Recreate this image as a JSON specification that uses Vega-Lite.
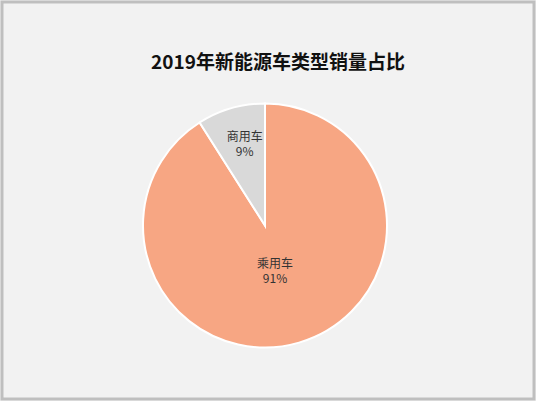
{
  "$schema": "https://vega.github.io/schema/vega-lite/v6.json",
  "width": 536,
  "height": 401,
  "autosize": {"type": "fit", "contains": "padding"},
  "padding": 0,
  "background": "#f2f2f2",
  "config": {
    "view": {"stroke": null},
    "font": "Noto Sans CJK SC"
  },
  "title": {
    "text": "2019年新能源车类型销量占比",
    "offset": -72,
    "fontSize": 19,
    "fontWeight": "bold",
    "color": "#111111",
    "font": "Noto Sans CJK SC",
    "dx": 10
  },
  "layer": [
    {
      "data": {"values": [{"frame": "border"}]},
      "mark": {"type": "rect", "fill": null, "stroke": "#bfbfbf", "strokeWidth": 3},
      "encoding": {}
    },
    {
      "data": {
        "values": [
          {"type": "乘用车", "pct": 91},
          {"type": "商用车", "pct": 9}
        ]
      },
      "transform": [
        {"stack": "pct", "groupby": [], "as": ["t0", "t1"], "sort": [{"field": "pct", "order": "descending"}]},
        {"calculate": "(datum.t0 + datum.t1) / 2", "as": "tmid"},
        {"calculate": "datum.type + '\\n' + datum.pct + '%'", "as": "label"}
      ],
      "layer": [
        {
          "mark": {"type": "arc", "outerRadius": 122, "stroke": "#ffffff", "strokeWidth": 2, "xOffset": -3, "yOffset": 25},
          "encoding": {
            "theta": {"field": "t0", "type": "quantitative", "scale": {"domain": [0, 100]}},
            "theta2": {"field": "t1"},
            "color": {
              "field": "type",
              "type": "nominal",
              "scale": {"domain": ["乘用车", "商用车"], "range": ["#f7a683", "#d9d9d9"]},
              "legend": null
            }
          }
        },
        {
          "transform": [{"filter": "datum.type == '乘用车'"}],
          "mark": {"type": "text", "radius": 43, "lineBreak": "\n", "lineHeight": 15, "fontSize": 12, "color": "#333333", "xOffset": -5, "yOffset": 22},
          "encoding": {
            "theta": {"field": "tmid", "type": "quantitative", "scale": {"domain": [0, 100]}},
            "text": {"field": "label"}
          }
        },
        {
          "transform": [{"filter": "datum.type == '商用车'"}],
          "mark": {"type": "text", "radius": 80, "lineBreak": "\n", "lineHeight": 15, "fontSize": 12, "color": "#333333", "xOffset": -1, "yOffset": 13},
          "encoding": {
            "theta": {"field": "tmid", "type": "quantitative", "scale": {"domain": [0, 100]}},
            "text": {"field": "label"}
          }
        }
      ]
    }
  ]
}
